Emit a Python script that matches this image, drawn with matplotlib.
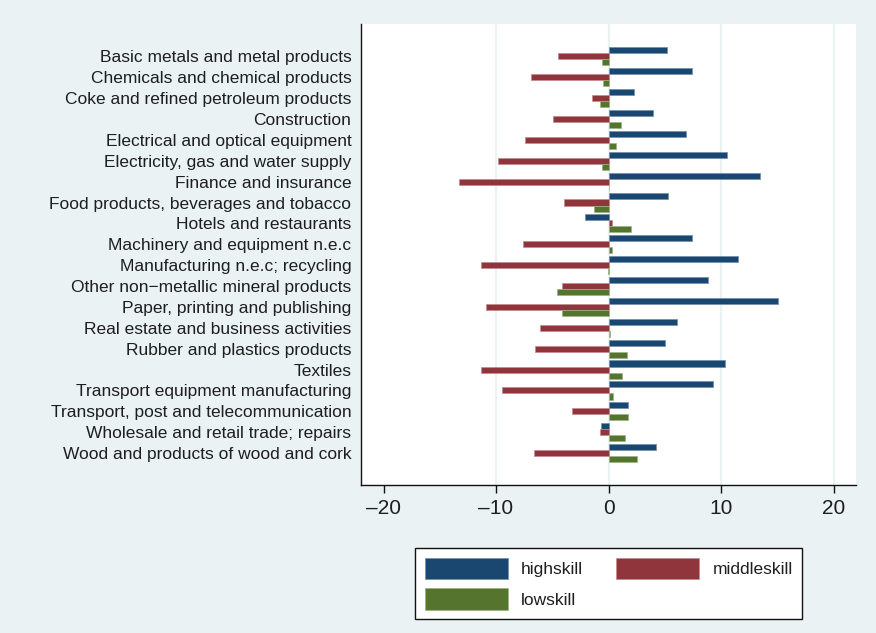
import matplotlib
matplotlib.use("Agg")
import matplotlib.pyplot as plt
import numpy as np
from matplotlib.patches import Patch

plt.rcParams["font.family"] = ["Liberation Sans", "DejaVu Sans"]

industries = [
    "Basic metals and metal products",
    "Chemicals and chemical products",
    "Coke and refined petroleum products",
    "Construction",
    "Electrical and optical equipment",
    "Electricity, gas and water supply",
    "Finance and insurance",
    "Food products, beverages and tobacco",
    "Hotels and restaurants",
    "Machinery and equipment n.e.c",
    "Manufacturing n.e.c; recycling",
    "Other non\u2212metallic mineral products",
    "Paper, printing and publishing",
    "Real estate and business activities",
    "Rubber and plastics products",
    "Textiles",
    "Transport equipment manufacturing",
    "Transport, post and telecommunication",
    "Wholesale and retail trade; repairs",
    "Wood and products of wood and cork",
]

highskill = [5.16, 7.42, 2.31, 3.98, 6.88, 10.53, 13.44, 5.28, -2.11, 7.45,
             11.51, 8.84, 15.10, 6.08, 5.01, 10.39, 9.26, 1.75, -0.68, 4.24]
middleskill = [-4.51, -6.91, -1.45, -4.90, -7.45, -9.79, -13.32, -3.92, 0.27, -7.60,
               -11.36, -4.15, -10.92, -6.08, -6.53, -11.36, -9.47, -3.26, -0.74, -6.65]
lowskill = [-0.56, -0.45, -0.77, 1.07, 0.65, -0.62, 0.08, -1.31, 1.96, 0.27,
            -0.05, -4.60, -4.15, 0.09, 1.66, 1.16, 0.39, 1.72, 1.48, 2.52]

xticks = [-20, -10, 0, 10, 20]

c_high = "#1a476f"
c_mid = "#90353b"
c_low = "#55752f"
bg = "#eaf2f3"
txt = "#1e1e1e"

W, H = 876, 633
fig = plt.figure(figsize=(W / 100, H / 100), dpi=100, facecolor=bg)
ax = fig.add_axes([361 / W, 1 - 485 / H, (856 - 361) / W, (485 - 24) / H])
ax.set_facecolor("white")

y = np.arange(len(industries))
bh = 0.29
series = [(highskill, c_high, "#6f8fae", -bh), (middleskill, c_mid, "#c48a8e", 0.0),
          (lowskill, c_low, "#9db384", bh)]
for vals, col, edge, off in series:
    ax.barh(y + off, vals, height=bh, color=col, edgecolor=edge, linewidth=0.5, zorder=3)

ax.set_xlim(-22, 22)
ax.set_ylim(len(industries) - 1 + 1.53, -1.55)
ax.set_xticks(xticks)
ax.set_xticklabels([str(t).replace("-", "\u2013") for t in xticks], fontsize=15, color=txt)
ax.set_yticks(y)
ax.set_yticklabels(industries, fontsize=12.5, color=txt)

for gx in [-10, 0, 10, 20]:
    ax.axvline(gx, color=bg, linewidth=1.6, zorder=1)

for s in ["top", "right"]:
    ax.spines[s].set_visible(False)
for s in ["left", "bottom"]:
    ax.spines[s].set_color("#111111")
    ax.spines[s].set_linewidth(1.0)

ax.tick_params(axis="y", length=0, pad=7)
ax.tick_params(axis="x", length=6, width=1.0, color="#111111", pad=4)

handles = [Patch(facecolor=c_high, edgecolor="#6f8fae", linewidth=0.5, label="highskill"),
           Patch(facecolor=c_low, edgecolor="#9db384", linewidth=0.5, label="lowskill"),
           Patch(facecolor=c_mid, edgecolor="#c48a8e", linewidth=0.5, label="middleskill")]
leg = fig.legend(handles=handles, ncol=2, loc="upper left",
                 bbox_to_anchor=(415 / W, 1 - 548 / H), bbox_transform=fig.transFigure,
                 fontsize=12.5, frameon=True, fancybox=False, borderaxespad=0,
                 handlelength=4.8, handleheight=1.55, handletextpad=0.75,
                 columnspacing=1.9, labelspacing=0.5, borderpad=0.55,
                 framealpha=1.0, facecolor="white")
leg.get_frame().set_edgecolor("#111111")
leg.get_frame().set_linewidth(1.0)
for t in leg.get_texts():
    t.set_color(txt)

fig.savefig("out.png", dpi=100, facecolor=bg)
